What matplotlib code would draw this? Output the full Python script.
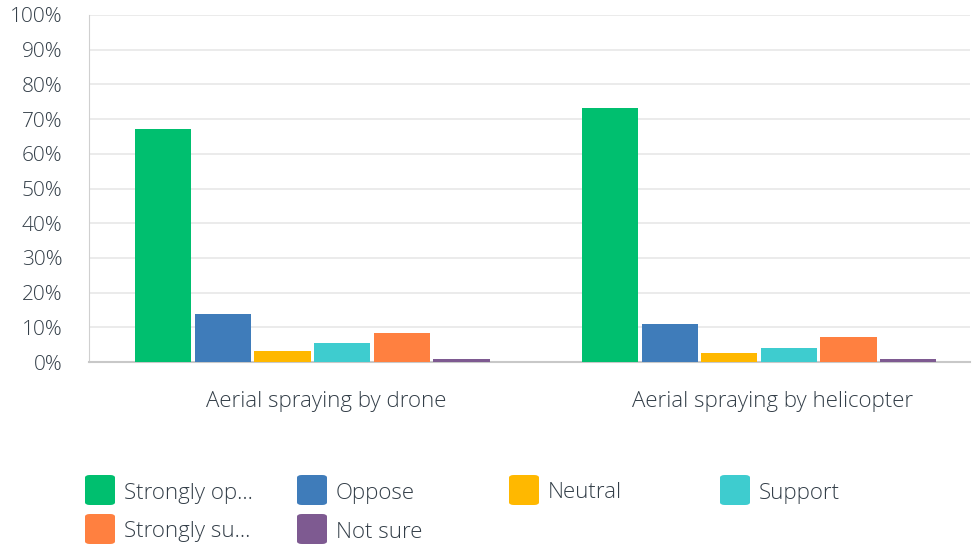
import matplotlib
matplotlib.use("Agg")
import matplotlib.pyplot as plt
from matplotlib.patches import FancyBboxPatch
import numpy as np

categories = ["Aerial spraying by drone", "Aerial spraying by helicopter"]
series_labels = ["Strongly op...", "Oppose", "Neutral", "Support", "Strongly su...", "Not sure"]
strongly_oppose = [67.1, 73.2]
oppose = [13.8, 10.9]
neutral = [3.1, 2.6]
support = [5.6, 3.9]
strongly_support = [8.4, 7.2]
not_sure = [0.9, 0.9]
yticks = [0, 10, 20, 30, 40, 50, 60, 70, 80, 90, 100]
ytick_labels = [f"{v}%" for v in yticks]

series = [strongly_oppose, oppose, neutral, support, strongly_support, not_sure]
colors = ["#00BF6F", "#3F7CBA", "#FFB800", "#3ECCCF", "#FF8040", "#7E5A91"]

plt.rcParams['font.family'] = ['Open Sans', 'DejaVu Sans']
plt.rcParams['font.weight'] = 'light'
text_color = "#333e48"

fig = plt.figure(figsize=(9.72, 5.44), dpi=100)
ax = fig.add_axes([89/972, 1 - 362/544, (970-89)/972, (362-15)/544])

x = np.arange(len(categories))
step = 0.1335
width = 0.126
n = len(series)
for i, (vals, c) in enumerate(zip(series, colors)):
    offs = (i - (n - 1) / 2) * step
    ax.bar(x + offs, vals, width=width, color=c, zorder=3)

ax.set_xlim(-0.5, 1.472)
ax.set_ylim(0, 100)
ax.set_yticks(yticks)
ax.set_yticklabels(ytick_labels, fontsize=15, color=text_color)
ax.set_xticks(x + 0.03)
ax.set_xticklabels(categories, fontsize=16, color=text_color)
ax.tick_params(axis='both', length=0)
ax.tick_params(axis='y', pad=19)
ax.tick_params(axis='x', pad=21)
ax.grid(axis='y', color='#e8e8e8', linewidth=1.2, zorder=0)
for s in ['top', 'right']:
    ax.spines[s].set_visible(False)
ax.spines['left'].set_color('#d0d0d0')
ax.spines['bottom'].set_color('#c8c8c8')
ax.spines['bottom'].set_linewidth(1.5)

# legend
col_x = [85, 297, 509, 720]
row_y = [490, 529]
for i, (lab, c) in enumerate(zip(series_labels, colors)):
    r, col = divmod(i, 4)
    px = col_x[col]
    py = row_y[r]
    sz = 30
    box = FancyBboxPatch(((px) / 972, 1 - (py + sz / 2) / 544), sz / 972, sz / 544,
                         boxstyle="round,pad=0,rounding_size=0.005",
                         transform=fig.transFigure, facecolor=c, edgecolor='none')
    fig.patches.append(box)
    fig.text((px + 39) / 972, 1 - (py + 3) / 544, lab, fontsize=16, color=text_color,
             va='center', ha='left')

fig.savefig("out.png", dpi=100, facecolor='white')
